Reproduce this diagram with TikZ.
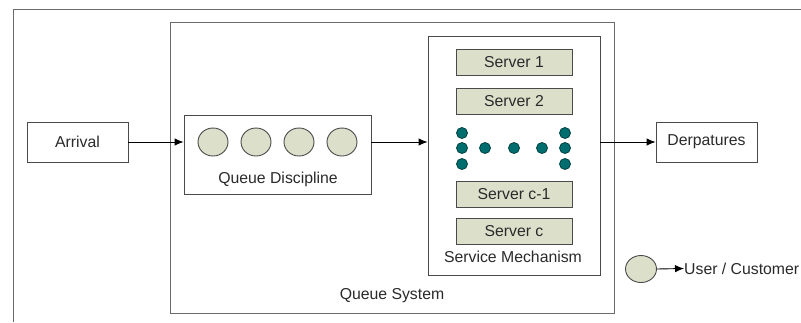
\documentclass[tikz,border=0pt]{standalone}
\usepackage{fontspec}
\setmainfont{Liberation Sans}
\usetikzlibrary{arrows.meta,shapes.geometric}
\definecolor{boxline}{HTML}{4A4A4A}
\definecolor{frameline}{HTML}{6A6A6A}
\definecolor{srvfill}{HTML}{DCE0CB}
\definecolor{dotfill}{HTML}{006E6E}
\definecolor{dotline}{HTML}{004040}
\definecolor{txt}{HTML}{2A2A2A}
\begin{document}
\begin{tikzpicture}[x=1pt,y=-1pt,
  every node/.style={font=\fontsize{15.8}{18}\selectfont, text=txt, inner sep=0pt},
  plainbox/.style={draw=boxline, line width=0.9pt, fill=white, rectangle},
  srvbox/.style={draw=boxline, line width=0.9pt, fill=srvfill, rectangle, minimum width=116pt, minimum height=26pt},
  cust/.style={draw=boxline, line width=0.9pt, fill=srvfill, ellipse, minimum width=30pt, minimum height=28pt},
  sdot/.style={draw=dotline, line width=0.8pt, fill=dotfill, circle, minimum size=11pt},
  arr/.style={-{Latex[length=9pt,width=7.5pt]}, line width=0.9pt, black},
  lbl/.style={text=txt}]
\useasboundingbox (0,0) rectangle (801,322);
\fill[white] (0,0) rectangle (801,322);
% outer frame
\coordinate (fbl) at (13,322);
\coordinate (ftl) at (13,9);
\coordinate (ftr) at (801,9);
\draw[frameline, line width=1pt] (fbl) -- (ftl) -- (ftr);
% queue system
\node[plainbox, draw=frameline, minimum width=444pt, minimum height=291pt] (QS) at (392,167.5) {};
\node[lbl] (QSl) at (392,296) {Queue System};
% arrival
\node[plainbox, minimum width=101pt, minimum height=40pt] (A) at (77.5,142) {Arrival};
% queue discipline
\node[plainbox, minimum width=187pt, minimum height=79pt] (QD) at (277.5,154.5) {};
\node[cust] (c1) at (213,142) {};
\node[cust] (c2) at (256,142) {};
\node[cust] (c3) at (299,142) {};
\node[cust] (c4) at (342,142) {};
\node[lbl] (QDl) at (278,179) {Queue Discipline};
% service mechanism
\node[plainbox, minimum width=172pt, minimum height=239pt] (SM) at (514,155.5) {};
\node[srvbox] (s1) at (514,62) {Server 1};
\node[srvbox] (s2) at (514,101.5) {Server 2};
\node[srvbox] (s3) at (514,194) {Server c-1};
\node[srvbox] (s4) at (514,231) {Server c};
\node[lbl] (SMl) at (513,257) {Service Mechanism};
\node[sdot] (d1) at (462,133) {};
\node[sdot] (d2) at (462,148) {};
\node[sdot] (d3) at (462,164) {};
\node[sdot] (d4) at (485,148) {};
\node[sdot] (d5) at (514,148) {};
\node[sdot] (d6) at (542,148) {};
\node[sdot] (d7) at (565,133) {};
\node[sdot] (d8) at (565,148) {};
\node[sdot] (d9) at (565,164) {};
% departures
\node[plainbox, minimum width=101pt, minimum height=40pt] (D) at (706.5,142) {Derpatures};
% arrows
\draw[arr] (A.east) -- (A.east -| QD.west);
\draw[arr] (c4 -| QD.east) -- (c4 -| SM.west);
\draw[arr] (D.west -| SM.east) -- (D.west);
% legend
\node[cust, minimum width=31pt, minimum height=27pt] (leg) at (641,269) {};
\node[anchor=west] (legl) at (684,268.5) {User / Customer};
\draw[arr] (leg.east) -- (legl.west);
\end{tikzpicture}
\end{document}
